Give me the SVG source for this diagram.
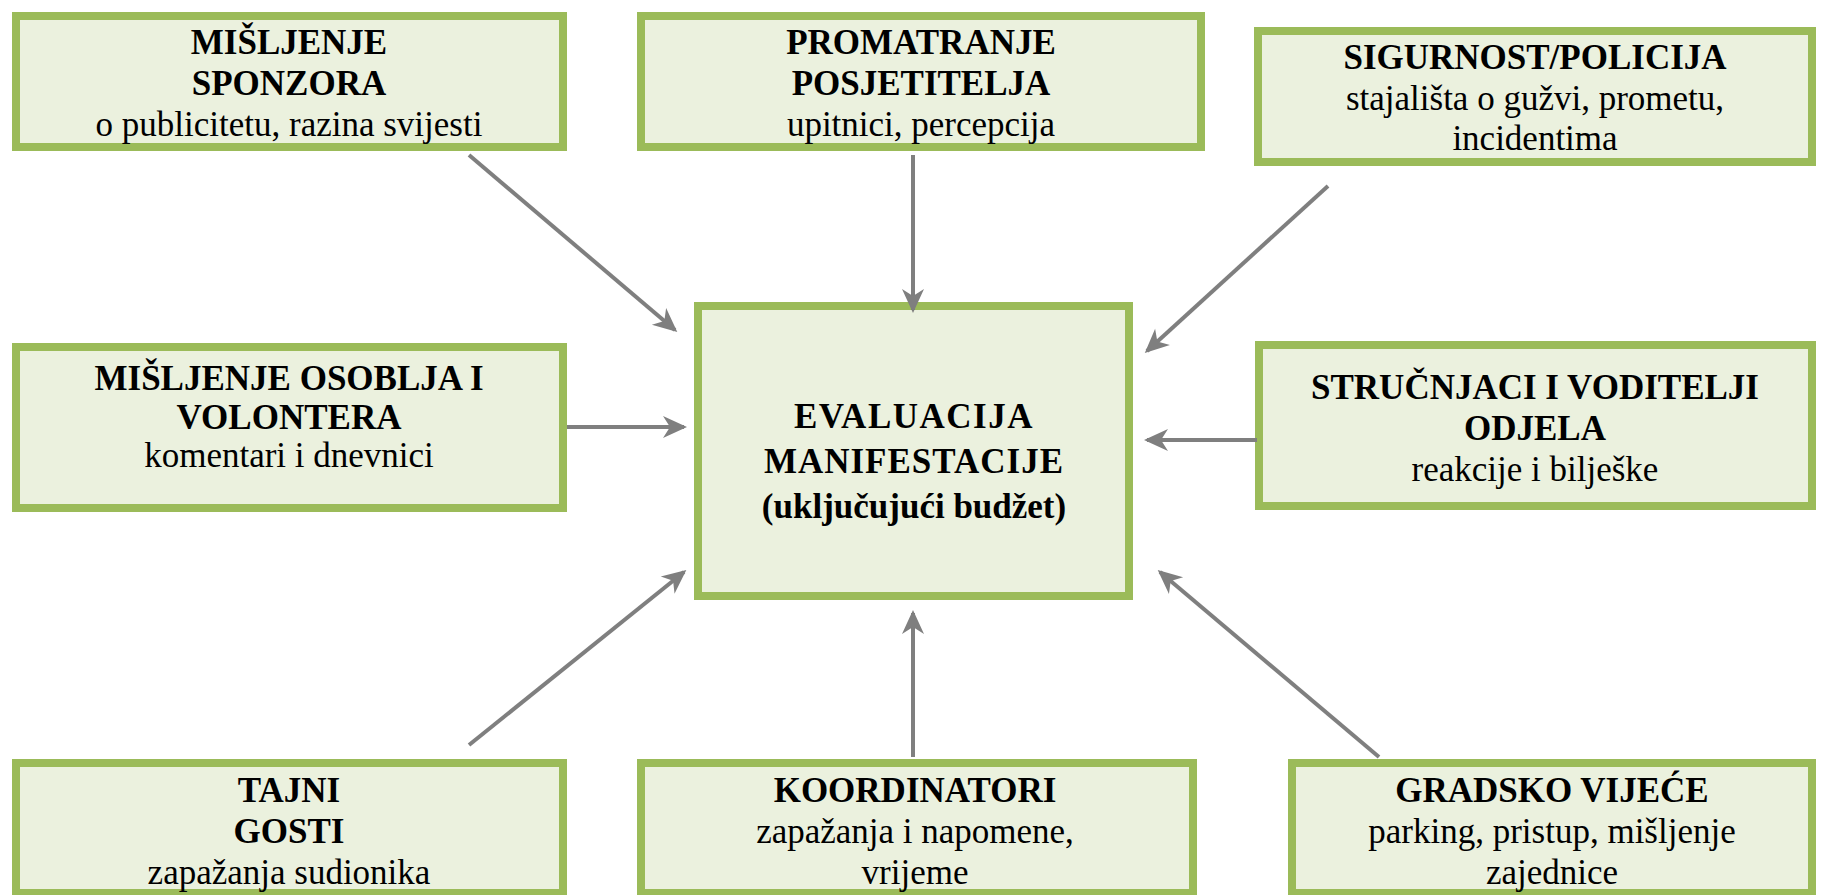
<svg xmlns="http://www.w3.org/2000/svg" width="1825" height="895" viewBox="0 0 1825 895">
  <style>
    .box { fill: #ebf1de; stroke: #9bbb59; stroke-width: 8; }
    .t { font-family: "Liberation Serif", "Times New Roman", serif; font-size: 35px; fill: #000; text-anchor: middle; }
    .b { font-weight: bold; }
    .conn { stroke: #7f7f7f; stroke-width: 4; fill: none; marker-end: url(#arrow); }
  </style>
  <defs>
    <marker id="arrow" viewBox="-26 -13 30 26" refX="0" refY="0" markerWidth="30" markerHeight="26" markerUnits="userSpaceOnUse" orient="auto">
      <path d="M3,0 L-21,-11 L-14,0 L-21,11 Z" fill="#7f7f7f"/>
    </marker>
  </defs>
  <rect width="1825" height="895" fill="#ffffff"/>

  <g id="n-sponzori">
    <rect class="box" x="16" y="16" width="547" height="131"/>
    <text class="t b" x="289" y="54">MIŠLJENJE</text>
    <text class="t b" x="289" y="95">SPONZORA</text>
    <text class="t" x="289" y="136">o publicitetu, razina svijesti</text>
  </g>

  <g id="n-posjetitelji">
    <rect class="box" x="641" y="16" width="560" height="131"/>
    <text class="t b" x="921" y="54">PROMATRANJE</text>
    <text class="t b" x="921" y="95">POSJETITELJA</text>
    <text class="t" x="921" y="136">upitnici, percepcija</text>
  </g>

  <g id="n-sigurnost">
    <rect class="box" x="1258" y="31" width="554" height="131"/>
    <text class="t b" x="1535" y="69">SIGURNOST/POLICIJA</text>
    <text class="t" x="1535" y="110">stajališta o gužvi, prometu,</text>
    <text class="t" x="1535" y="150">incidentima</text>
  </g>

  <g id="n-osoblje">
    <rect class="box" x="16" y="347" width="547" height="161"/>
    <text class="t b" x="289" y="390">MIŠLJENJE OSOBLJA I</text>
    <text class="t b" x="289" y="429">VOLONTERA</text>
    <text class="t" x="289" y="467">komentari i dnevnici</text>
  </g>

  <g id="n-evaluacija">
    <rect class="box" x="698" y="306" width="431" height="290"/>
    <text class="t b" x="914" y="428" letter-spacing="1.5">EVALUACIJA</text>
    <text class="t b" x="914" y="473" letter-spacing="1">MANIFESTACIJE</text>
    <text class="t b" x="914" y="518">(uključujući budžet)</text>
  </g>

  <g id="n-strucnjaci">
    <rect class="box" x="1259" y="345" width="553" height="161"/>
    <text class="t b" x="1535" y="399">STRUČNJACI I VODITELJI</text>
    <text class="t b" x="1535" y="440">ODJELA</text>
    <text class="t" x="1535" y="481">reakcije i bilješke</text>
  </g>

  <g id="n-tajni">
    <rect class="box" x="16" y="763" width="547" height="130"/>
    <text class="t b" x="289" y="802">TAJNI</text>
    <text class="t b" x="289" y="843">GOSTI</text>
    <text class="t" x="289" y="884">zapažanja sudionika</text>
  </g>

  <g id="n-koordinatori">
    <rect class="box" x="641" y="763" width="552" height="130"/>
    <text class="t b" x="915" y="802">KOORDINATORI</text>
    <text class="t" x="915" y="843">zapažanja i napomene,</text>
    <text class="t" x="915" y="884">vrijeme</text>
  </g>

  <g id="n-vijece">
    <rect class="box" x="1292" y="763" width="520" height="130"/>
    <text class="t b" x="1552" y="802">GRADSKO VIJEĆE</text>
    <text class="t" x="1552" y="843">parking, pristup, mišljenje</text>
    <text class="t" x="1552" y="884">zajednice</text>
  </g>

  <g id="connectors">
    <line class="conn" x1="469" y1="155" x2="675" y2="330"/>
    <line class="conn" x1="913" y1="155" x2="913" y2="310"/>
    <line class="conn" x1="1328" y1="186" x2="1147" y2="351"/>
    <line class="conn" x1="567" y1="427" x2="684" y2="427"/>
    <line class="conn" x1="1257" y1="440" x2="1147" y2="440"/>
    <line class="conn" x1="469" y1="745" x2="684" y2="572"/>
    <line class="conn" x1="913" y1="757" x2="913" y2="613"/>
    <line class="conn" x1="1379" y1="757" x2="1160" y2="572"/>
  </g>
</svg>
